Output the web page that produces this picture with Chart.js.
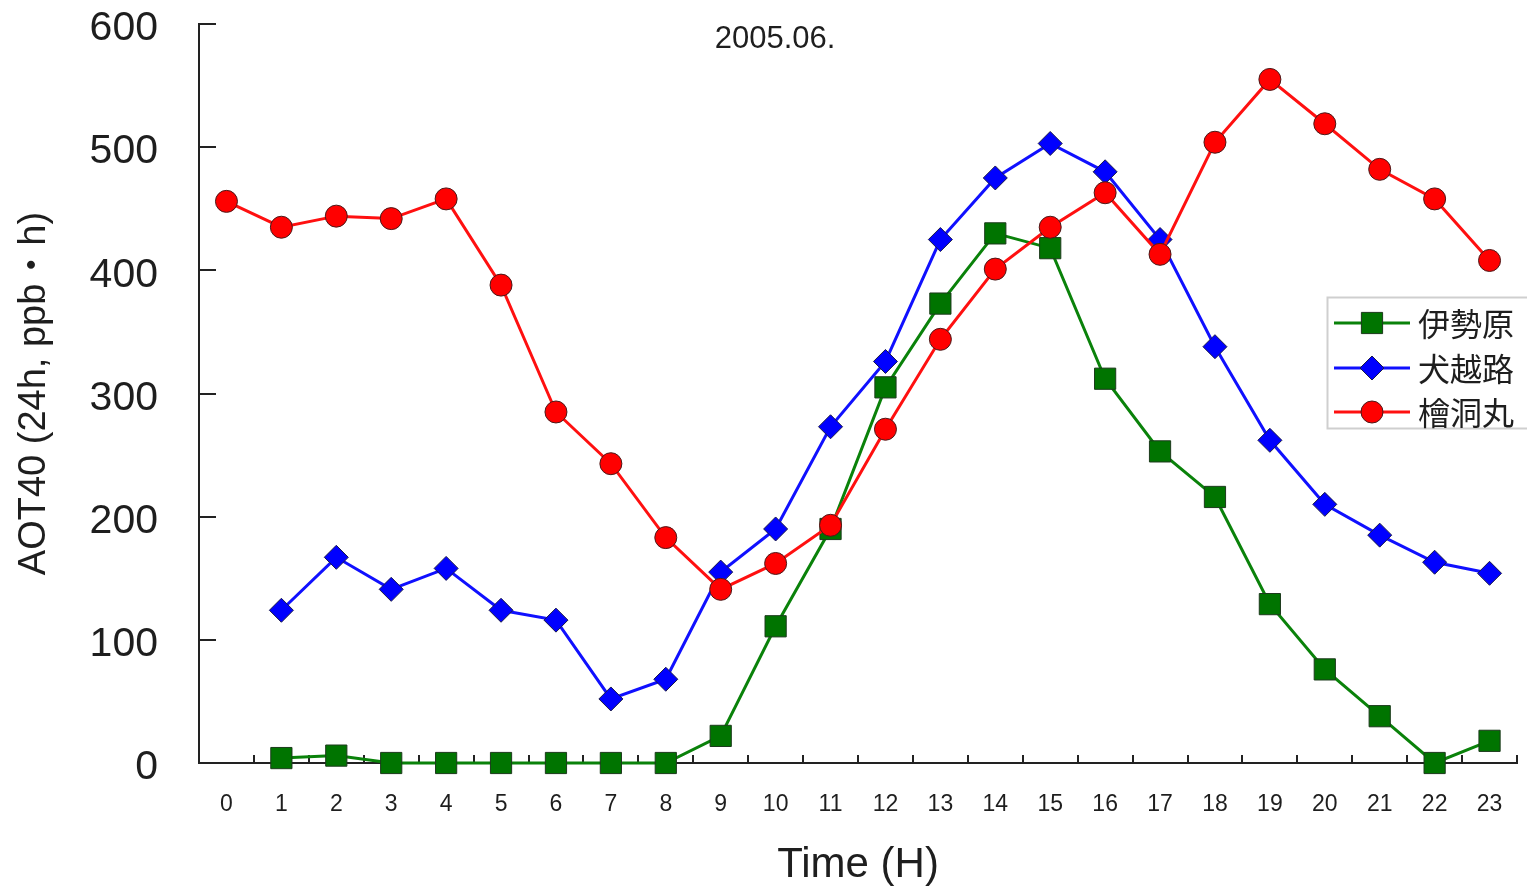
<!DOCTYPE html>
<html>
<head>
<meta charset="utf-8">
<script src="https://cdn.jsdelivr.net/npm/chart.js@4/dist/chart.umd.min.js"></script>
<style>
html,body{margin:0;padding:0;background:#fff;}
#wrap{width:1527px;height:886px;position:relative;}
</style>
</head>
<body>
<div id="wrap"><canvas id="c" width="1527" height="886"></canvas></div>
<script>
// ---- data ----
const hours = ['0','1','2','3','4','5','6','7','8','9','10','11','12','13','14','15','16','17','18','19','20','21','22','23'];
const seriesNames = ['伊勢原','犬越路','檜洞丸'];
const isehara = [null,4,6,0,0,0,0,0,0,22,111,190,305,373,430,418,312,253,216,129,76,38,0,18];
const inukoeji = [null,124,167,141,158,124,116,52,68,155,190,273,326,425,475,503,480,425,338,262,210,185,163,154];
const hinokibora = [456,435,444,442,458,388,285,243,183,141,162,193,271,344,401,435,463,413,504,555,519,482,458,408];
const yTicks = [0,100,200,300,400,500,600];
const chartTitle = '2005.06.';
const xTitle = 'Time (H)';
const yTitle = 'AOT40 (24h, ppb・h)';

const LAT = "'Liberation Sans', Arial, 'Noto Sans CJK JP', sans-serif";
const CJK = "'Noto Sans CJK JP', 'Liberation Sans', sans-serif";
const TXT = '#1e1e1e';

const bgPlugin = {
  id: 'bg',
  beforeDraw(chart) {
    const ctx = chart.ctx;
    ctx.save();
    ctx.fillStyle = '#fff';
    ctx.fillRect(0, 0, chart.width, chart.height);
    ctx.restore();
  }
};

const overlayPlugin = {
  id: 'overlay',
  afterDraw(chart) {
    const ctx = chart.ctx;
    ctx.save();
    // title
    ctx.fillStyle = TXT;
    ctx.font = "31px " + LAT;
    ctx.textAlign = 'center';
    ctx.textBaseline = 'middle';
    ctx.fillText(chartTitle, 775, 39);
    // legend
    const bx = 1327.5, by = 297.5, bw = 205, bh = 131;
    ctx.fillStyle = '#fff';
    ctx.fillRect(bx, by, bw, bh);
    ctx.strokeStyle = '#cfcfcf';
    ctx.lineWidth = 2;
    ctx.strokeRect(bx, by, bw, bh);
    const rows = [323, 368, 412];
    chart.data.datasets.forEach((ds, i) => {
      const y = rows[i];
      ctx.strokeStyle = ds.borderColor;
      ctx.lineWidth = 3;
      ctx.beginPath();
      ctx.moveTo(1334, y);
      ctx.lineTo(1410, y);
      ctx.stroke();
      ctx.fillStyle = ds.pointBackgroundColor;
      ctx.strokeStyle = ds.pointBorderColor;
      ctx.lineWidth = 1;
      Chart.helpers.drawPoint(ctx, {pointStyle: ds.pointStyle, radius: ds.pointRadius, rotation: 0, borderWidth: 1}, 1372, y);
      ctx.fillStyle = TXT;
      ctx.font = "32px " + CJK;
      ctx.textAlign = 'left';
      ctx.textBaseline = 'middle';
      ctx.fillText(ds.label, 1418, y + 1);
    });
    ctx.restore();
  }
};

new Chart(document.getElementById('c'), {
  type: 'line',
  data: {
    labels: hours,
    datasets: [
      {
        label: seriesNames[0], data: isehara, order: 3,
        borderColor: '#0a820a', borderWidth: 3,
        pointStyle: 'rect', pointRadius: 15, pointHoverRadius: 15,
        pointBackgroundColor: '#007400', pointBorderColor: '#1c3a1c', pointBorderWidth: 1,
        clip: false, tension: 0
      },
      {
        label: seriesNames[1], data: inukoeji, order: 2,
        borderColor: '#1010ff', borderWidth: 3,
        pointStyle: 'rectRot', pointRadius: 12, pointHoverRadius: 12,
        pointBackgroundColor: '#0000ff', pointBorderColor: '#1a1a4a', pointBorderWidth: 1,
        clip: false, tension: 0
      },
      {
        label: seriesNames[2], data: hinokibora, order: 1,
        borderColor: '#ff1010', borderWidth: 3,
        pointStyle: 'circle', pointRadius: 11, pointHoverRadius: 11,
        pointBackgroundColor: '#ff0000', pointBorderColor: '#4a1a1a', pointBorderWidth: 1,
        clip: false, tension: 0
      }
    ]
  },
  options: {
    responsive: false,
    animation: false,
    devicePixelRatio: 1,
    layout: { autoPadding: false, padding: { top: 24, right: 10, bottom: 0, left: 0 } },
    plugins: {
      legend: { display: false },
      title: { display: false },
      tooltip: { enabled: false }
    },
    scales: {
      x: {
        type: 'category',
        offset: true,
        afterFit(s) { s.height = 123; s.paddingLeft = 0; s.paddingRight = 0; },
        grid: {
          offset: true, drawOnChartArea: false, drawTicks: true,
          tickLength: -8, color: '#222', lineWidth: 2
        },
        border: { display: true, color: '#222', width: 2 },
        ticks: {
          color: TXT, font: { family: LAT, size: 23 },
          padding: 36, maxRotation: 0, autoSkip: false
        },
        title: {
          display: true, text: xTitle, color: TXT,
          font: { family: LAT, size: 42, lineHeight: 1.0 },
          padding: { top: 0, bottom: 0 }
        }
      },
      y: {
        min: 0, max: 600,
        afterFit(s) { s.width = 199; s.paddingTop = 0; s.paddingBottom = 0; },
        afterBuildTicks(s) { s.ticks = yTicks.map(v => ({ value: v })); },
        grid: {
          drawOnChartArea: false, drawTicks: true,
          tickLength: -17, color: '#222', lineWidth: 2
        },
        border: { display: true, color: '#222', width: 2 },
        ticks: {
          color: TXT, font: { family: LAT, size: 41 },
          padding: 58, labelOffset: 5
        },
        title: {
          display: true, text: yTitle, color: TXT,
          font: { family: LAT, size: 38, lineHeight: 1.2 },
          padding: { top: 12, bottom: 0 }
        }
      }
    }
  },
  plugins: [bgPlugin, overlayPlugin]
});
</script>
</body>
</html>
